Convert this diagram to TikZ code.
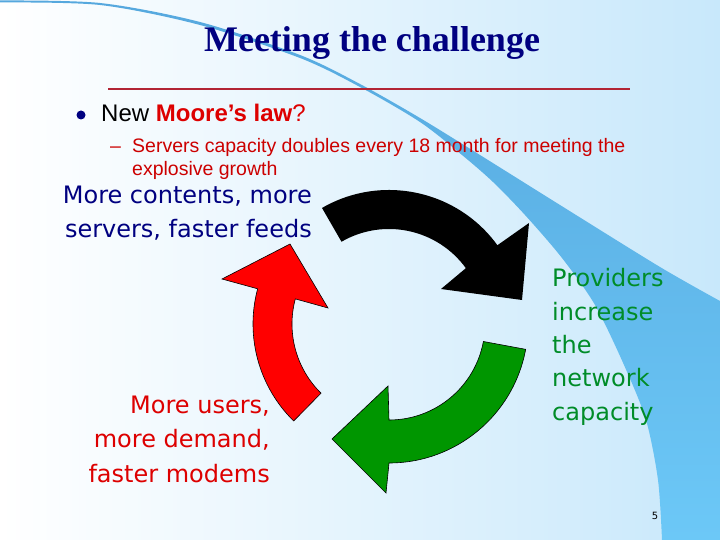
\documentclass[tikz,border=0pt]{standalone}
\usepackage{fontspec}
\setmainfont{Liberation Sans}
\newfontfamily\serifT{Liberation Serif}
\newfontfamily\tah{DejaVu Sans}
\usetikzlibrary{calc}
\definecolor{navyT}{RGB}{0,0,128}
\definecolor{lineR}{RGB}{178,36,52}
\definecolor{redT}{RGB}{221,0,0}
\definecolor{redS}{RGB}{204,0,0}
\definecolor{greenT}{RGB}{0,140,40}
\definecolor{greenA}{RGB}{0,150,0}
\definecolor{redA}{RGB}{255,0,0}
\definecolor{bgB}{RGB}{200,232,251}
\definecolor{swA}{RGB}{86,168,222}
\definecolor{swB}{RGB}{108,200,247}
\begin{document}
\begin{tikzpicture}[x=1pt,y=-1pt,
  arrowshape/.style={draw=black,line width=0.6pt,line join=miter},
  txt/.style={inner sep=0pt},
  lbl/.style={inner sep=0pt,font=\tah\fontsize{24}{34}\selectfont}]
\useasboundingbox (0,0) rectangle (720,540);
% background
\shade[left color=white,right color=bgB] (0,0) rectangle (720,540);
% swoosh
\shade[top color=swA,bottom color=swB]
  plot[smooth] coordinates {(0,0.5) (100,3) (200,22) (300,55) (360,84) (420,118) (480,155) (560,205) (660,267) (720,301)}
  -- (720,540) -- (662,540)
  -- plot[smooth] coordinates {(662,540) (658,480) (646,420) (624,365) (595,305) (562,258) (525,215) (493,182) (462,155) (420,122) (360,87) (300,58) (200,25) (100,5) (0,2.5)}
  -- cycle;
% title
\node[txt,anchor=base,font=\serifT\bfseries\fontsize{36}{40}\selectfont,text=navyT] (title) at (372,52) {Meeting the challenge};
\coordinate (ruleA) at (108,89);
\coordinate (ruleB) at (630,89);
\draw[lineR,line width=2pt] (ruleA) -- (ruleB);
% bullets
\fill[navyT] (81,115) circle[radius=4.5pt];
\node[txt,anchor=base west,font=\fontsize{24}{28}\selectfont] (law) at (101,122) {New \textcolor{redT}{\textbf{Moore’s law}?}};
\node[txt,anchor=base west,font=\fontsize{19.5}{23}\selectfont,text=redS] (dash) at (110,153) {–};
\node[txt,anchor=base west,align=left,font=\fontsize{19.5}{23}\selectfont,text=redS] (servers) at (132,176) {Servers capacity doubles every 18 month for meeting the\\explosive growth};
% labels
\node[lbl,anchor=base east,align=right,text=navyT] (contents) at (312,237) {More contents, more\\servers, faster feeds};
\node[lbl,anchor=base west,align=left,text=greenT,font=\tah\fontsize{24}{33.3}\selectfont] (providers) at (552,420) {Providers\\increase\\the\\network\\capacity};
\node[lbl,anchor=base east,align=right,text=redT,font=\tah\fontsize{24}{34.5}\selectfont] (users) at (270,482) {More users,\\more demand,\\faster modems};
\node[txt,font=\tah\fontsize{10}{12}\selectfont] (page) at (655,516) {5};
% cycle arrows
\coordinate (C) at (389,324);
\fill[black] ($(C)+(120:134pt)$) arc[start angle=120,end angle=36,radius=134pt]
  -- (529,223) -- (522,300) -- (441,289)
  -- ($(C)+(36:95pt)$) arc[start angle=36,end angle=120,radius=95pt] -- cycle;
\filldraw[arrowshape,fill=greenA] ($(C)+(-10.5:139pt)$) arc[start angle=-10.5,end angle=-90,radius=139pt]
  -- (386,493) -- (332,439) -- (388,386)
  -- ($(C)+(-90:96pt)$) arc[start angle=-90,end angle=-10.5,radius=96pt] -- cycle;
\filldraw[arrowshape,fill=redA] ($(C)+(225.5:136pt)$) arc[start angle=225.5,end angle=165,radius=136pt]
  -- (222,279) -- (290,244) -- (328,308)
  -- ($(C)+(165:97pt)$) arc[start angle=165,end angle=225.5,radius=97pt] -- cycle;
\end{tikzpicture}
\end{document}
